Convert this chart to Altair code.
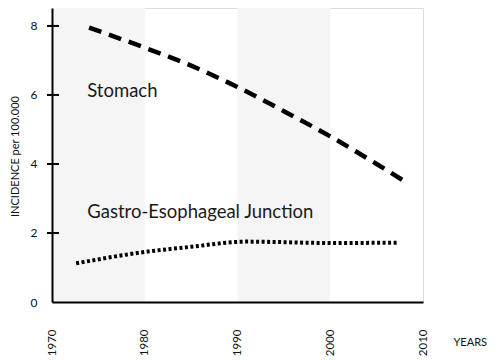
import altair as alt
import pandas as pd

# Data
stomach_years = [1974, 1980, 1985, 1990, 1995, 2000, 2005, 2008]
stomach_values = [7.95, 7.37, 6.85, 6.23, 5.53, 4.80, 4.00, 3.50]

gej_years = [1972.6, 1980, 1985, 1991, 2000, 2007.4]
gej_values = [1.12, 1.45, 1.60, 1.75, 1.71, 1.72]

band_starts = [1970, 1990]
band_ends = [1980, 2000]

y_ticks = [2, 4, 6, 8]
x_ticks = [1970, 1980, 1990, 2000, 2010]

labels = ["Stomach", "Gastro-Esophageal Junction"]
label_x = [1973.8, 1973.8]
label_y = [5.94, 2.43]

FONT = "Lato"
W, H = 371, 294
xscale = alt.Scale(domain=[1970, 2010], nice=False, zero=False)
yscale = alt.Scale(domain=[0, 8.52], nice=False, zero=True)

bands = pd.DataFrame({"start": band_starts, "end": band_ends})
st = pd.DataFrame({"year": stomach_years, "v": stomach_values})
gj = pd.DataFrame({"year": gej_years, "v": gej_values})
tk = pd.DataFrame({"year": [1970] * len(y_ticks), "v": y_ticks})
lb = pd.DataFrame({"year": label_x, "v": label_y, "t": labels})

x_axis = alt.Axis(values=x_ticks, format="d", labelAngle=270, labelAlign="right",
                  labelBaseline="middle", labelPadding=27, ticks=False, tickSize=0,
                  grid=False, domainColor="black", domainWidth=2, zindex=1,
                  labelFont=FONT, labelFontSize=11.5, labelColor="#111",
                  title="YEARS", titleFont=FONT, titleFontSize=11, titleFontWeight="normal",
                  titleColor="#111", titleX=401, titleY=40, titleAlign="left",
                  titleBaseline="middle", titleAngle=0)
y_axis = alt.Axis(values=[0, 2, 4, 6, 8], ticks=False, tickSize=0, labelPadding=15,
                  grid=False, domainColor="black", domainWidth=2, zindex=1,
                  labelFont=FONT, labelFontSize=12, labelColor="#111",
                  title="INCIDENCE per 100.000", titleFont=FONT, titleFontSize=11,
                  titleFontWeight="normal", titleColor="#111", titleX=-37, titleY=148,
                  titleAngle=270, titleAlign="center", titleBaseline="middle")

band_layer = alt.Chart(bands).mark_rect(color="#f5f5f5", opacity=1).encode(
    x=alt.X("start:Q", scale=xscale, axis=x_axis),
    x2="end:Q",
)

stomach_layer = alt.Chart(st).mark_line(color="black", strokeWidth=4.5,
                                         strokeDash=[13, 8], strokeCap="butt",
                                         interpolate="monotone").encode(
    x=alt.X("year:Q", scale=xscale),
    y=alt.Y("v:Q", scale=yscale, axis=y_axis),
)

gej_layer = alt.Chart(gj).mark_line(color="black", strokeWidth=4,
                                     strokeDash=[3, 2.5], strokeCap="butt",
                                     interpolate="monotone").encode(
    x=alt.X("year:Q", scale=xscale),
    y=alt.Y("v:Q", scale=yscale),
)

tick_layer = alt.Chart(tk).mark_point(shape="M-1,0H1", size=144, filled=False,
                                      color="black", strokeWidth=2, opacity=1,
                                      xOffset=1).encode(
    x=alt.X("year:Q", scale=xscale),
    y=alt.Y("v:Q", scale=yscale),
)

text_layer = alt.Chart(lb).mark_text(font=FONT, fontSize=18.5, color="#1a1a1a",
                                     align="left", baseline="alphabetic").encode(
    x=alt.X("year:Q", scale=xscale),
    y=alt.Y("v:Q", scale=yscale),
    text="t:N",
)

chart = alt.layer(band_layer, stomach_layer, gej_layer, tick_layer, text_layer).properties(
    width=W, height=H,
    autosize=alt.AutoSizeParams(type="none"),
    padding={"left": 44, "top": 0, "right": 65, "bottom": 58},
).configure_view(stroke=None).configure(background="white")

chart.save("out.html", embed_options={"renderer": "svg", "actions": False})
